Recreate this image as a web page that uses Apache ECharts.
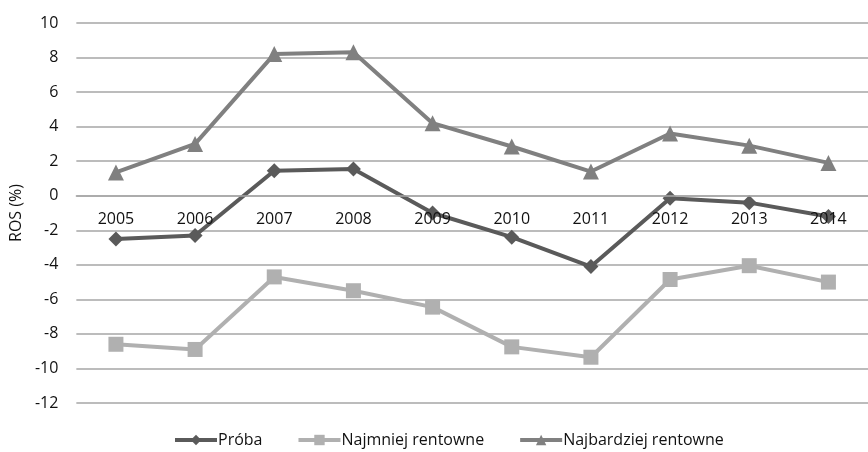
<!DOCTYPE html>
<html>
<head>
<meta charset="utf-8">
<script src="https://cdn.jsdelivr.net/npm/echarts@6/dist/echarts.min.js"></script>
<style>
  html, body { margin: 0; padding: 0; background: #fff; }
  #chart { width: 868px; height: 452px; }
</style>
</head>
<body>
<div id="chart"></div>
<script>
// Return on sales (ROS, %) by year for three groups of firms
const years = ['2005', '2006', '2007', '2008', '2009', '2010', '2011', '2012', '2013', '2014'];
const proba = [-2.5, -2.3, 1.45, 1.55, -1.0, -2.4, -4.1, -0.15, -0.4, -1.2];
const najmniejRentowne = [-8.6, -8.9, -4.7, -5.5, -6.45, -8.75, -9.35, -4.85, -4.05, -5.0];
const najbardziejRentowne = [1.35, 3.0, 8.2, 8.3, 4.2, 2.85, 1.4, 3.6, 2.9, 1.9];
const yTicks = { min: -12, max: 10, step: 2 };

const font = '"Open Sans", "Noto Sans", sans-serif';
const plot = { left: 76, top: 23, width: 804, height: 380 };
// The category axis sits on the zero line of the value axis
const zeroOffset = -plot.height * (0 - yTicks.min) / (yTicks.max - yTicks.min);

const chart = echarts.init(document.getElementById('chart'), null, { renderer: 'canvas' });

function lineSeries(name, data, color, symbol, size) {
  return {
    name: name,
    type: 'line',
    data: data,
    symbol: symbol,
    symbolSize: size,
    lineStyle: { color: color, width: 4 },
    itemStyle: { color: color },
    z: 2
  };
}

chart.setOption({
  animation: false,
  textStyle: { fontFamily: font },
  grid: Object.assign({ containLabel: false }, plot),
  legend: {
    bottom: -1,
    left: 168,
    itemGap: 34,
    itemWidth: 42,
    itemHeight: 13,
    lineStyle: { width: 4 },
    textStyle: { fontFamily: font, fontSize: 16, color: '#111', padding: [0, 0, 0, -4] },
    data: ['Próba', 'Najmniej rentowne', 'Najbardziej rentowne']
  },
  xAxis: {
    type: 'category',
    data: years,
    boundaryGap: true,
    position: 'bottom',
    offset: zeroOffset,
    z: 5,
    axisLine: { onZero: false, lineStyle: { color: '#a6a6a6', width: 1.5 } },
    axisTick: { show: false },
    axisLabel: { fontFamily: font, fontSize: 16, color: '#111', margin: 16, hideOverlap: false }
  },
  yAxis: {
    type: 'value',
    min: yTicks.min,
    max: yTicks.max,
    interval: yTicks.step,
    name: 'ROS (%)',
    nameLocation: 'middle',
    nameGap: 51,
    nameTextStyle: { fontFamily: font, fontSize: 16, color: '#111' },
    axisLine: { show: false },
    axisTick: { show: false },
    axisLabel: { fontFamily: font, fontSize: 16, color: '#111', margin: 18 },
    splitLine: { lineStyle: { color: '#a6a6a6', width: 1.5 } }
  },
  series: [
    lineSeries('Próba', proba, '#5a5a5a', 'diamond', 15),
    lineSeries('Najmniej rentowne', najmniejRentowne, '#b0b0b0', 'rect', 15),
    lineSeries('Najbardziej rentowne', najbardziejRentowne, '#808080', 'triangle', 16)
  ]
});
</script>
</body>
</html>
